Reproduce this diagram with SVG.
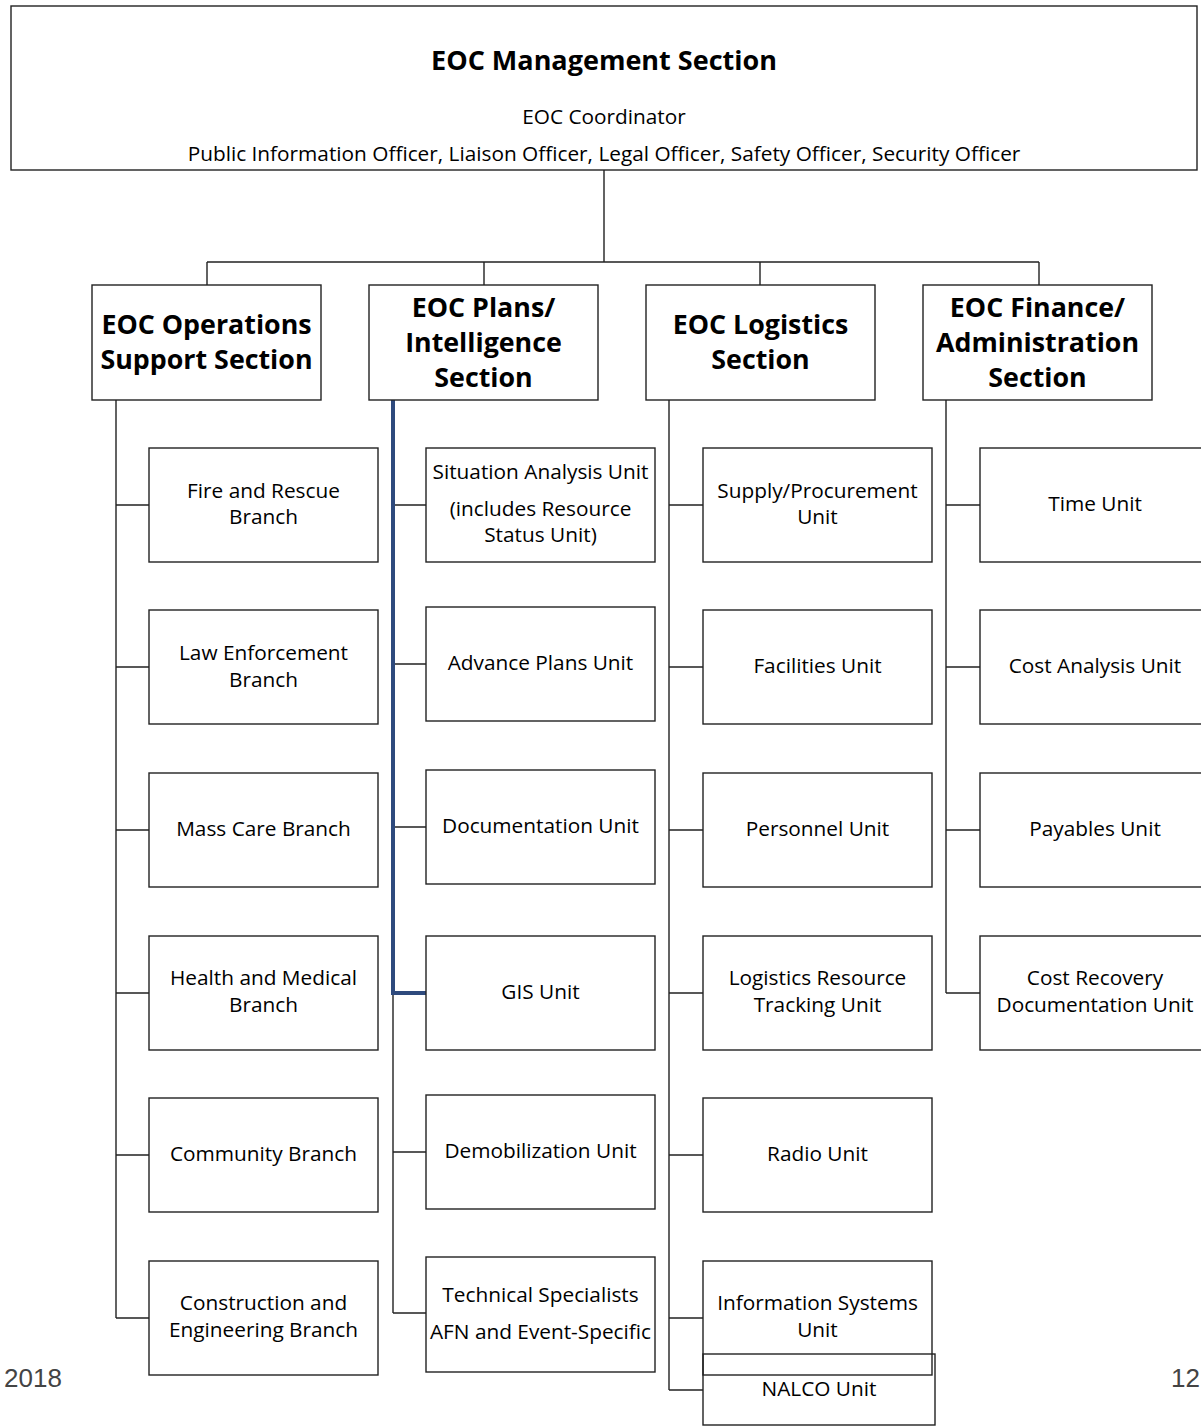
<svg xmlns="http://www.w3.org/2000/svg" width="1201" height="1426" viewBox="0 0 1201 1426">
<style>
text{font-family:"Open Sans","Liberation Sans",sans-serif;fill:#000;text-anchor:middle}
.box{fill:#fff;stroke:#222;stroke-width:1.4}
.nb{fill:none;stroke:#222;stroke-width:1.4}
.h{font-weight:bold;font-size:26.8px}
.t{font-size:20.8px}
.c{fill:none;stroke:#222;stroke-width:1.4}
.foot{font-family:"Liberation Sans",Arial,sans-serif;font-size:26px;fill:#444;text-anchor:start}
</style>
<rect width="1201" height="1426" fill="#fff"/>
<g id="connectors">
<path class="c" d="M604 170V262M207 262H1039M207 262V285M484 262V285M760 262V285M1039 262V285"/>
<path class="c" d="M116 400V1318M116 505H149M116 667H149M116 830H149M116 993H149M116 1155H149M116 1318H149"/>
<path class="c" d="M393 400V1313M393 505H426M393 664H426M393 827H426M393 1152H426M393 1313H426"/>
<path d="M393 400V993H426" fill="none" stroke="#2E4A7D" stroke-width="4"/>
<path class="c" d="M669 400V1390M669 505H703M669 667H703M669 830H703M669 993H703M669 1155H703M669 1318H703M669 1390H703"/>
<path class="c" d="M946 400V993M946 505H980M946 667H980M946 830H980M946 993H980"/>
</g>
<g id="mgmt"><rect class="box" x="11" y="6" width="1186" height="164"/>
<text x="604" y="70" style="font-weight:bold;font-size:27px">EOC Management Section</text>
<text class="t" x="604" y="124">EOC Coordinator</text>
<text class="t" x="604" y="161">Public Information Officer, Liaison Officer, Legal Officer, Safety Officer, Security Officer</text></g>
<g id="ops"><rect class="box" x="92" y="285" width="229" height="115"/><text class="h" x="206.5" y="334">EOC Operations</text><text class="h" x="206.5" y="369">Support Section</text></g>
<g id="plans"><rect class="box" x="369" y="285" width="229" height="115"/><text class="h" x="483.5" y="317">EOC Plans/</text><text class="h" x="483.5" y="352">Intelligence</text><text class="h" x="483.5" y="387">Section</text></g>
<g id="logistics"><rect class="box" x="646" y="285" width="229" height="115"/><text class="h" x="760.5" y="334">EOC Logistics</text><text class="h" x="760.5" y="369">Section</text></g>
<g id="finance"><rect class="box" x="923" y="285" width="229" height="115"/><text class="h" x="1037.5" y="317">EOC Finance/</text><text class="h" x="1037.5" y="352">Administration</text><text class="h" x="1037.5" y="387">Section</text></g>

<g id="fire"><rect class="box" x="149" y="448" width="229" height="114"/><text class="t" x="263.5" y="498">Fire and Rescue</text><text class="t" x="263.5" y="524">Branch</text></g>
<g id="law"><rect class="box" x="149" y="610" width="229" height="114"/><text class="t" x="263.5" y="660">Law Enforcement</text><text class="t" x="263.5" y="687">Branch</text></g>
<g id="mass"><rect class="box" x="149" y="773" width="229" height="114"/><text class="t" x="263.5" y="836">Mass Care Branch</text></g>
<g id="health"><rect class="box" x="149" y="936" width="229" height="114"/><text class="t" x="263.5" y="985">Health and Medical</text><text class="t" x="263.5" y="1012">Branch</text></g>
<g id="community"><rect class="box" x="149" y="1098" width="229" height="114"/><text class="t" x="263.5" y="1161">Community Branch</text></g>
<g id="construction"><rect class="box" x="149" y="1261" width="229" height="114"/><text class="t" x="263.5" y="1310">Construction and</text><text class="t" x="263.5" y="1337">Engineering Branch</text></g>

<g id="situation"><rect class="box" x="426" y="448" width="229" height="114"/><text class="t" x="540.5" y="479">Situation Analysis Unit</text><text class="t" x="540.5" y="516">(includes Resource</text><text class="t" x="540.5" y="542">Status Unit)</text></g>
<g id="advance"><rect class="box" x="426" y="607" width="229" height="114"/><text class="t" x="540.5" y="670">Advance Plans Unit</text></g>
<g id="documentation"><rect class="box" x="426" y="770" width="229" height="114"/><text class="t" x="540.5" y="833">Documentation Unit</text></g>
<g id="gis"><rect class="box" x="426" y="936" width="229" height="114"/><text class="t" x="540.5" y="999">GIS Unit</text></g>
<g id="demob"><rect class="box" x="426" y="1095" width="229" height="114"/><text class="t" x="540.5" y="1158">Demobilization Unit</text></g>
<g id="technical"><rect class="box" x="426" y="1257" width="229" height="115"/><text class="t" x="540.5" y="1302">Technical Specialists</text><text class="t" x="540.5" y="1339">AFN and Event-Specific</text></g>

<g id="supply"><rect class="box" x="703" y="448" width="229" height="114"/><text class="t" x="817.5" y="498">Supply/Procurement</text><text class="t" x="817.5" y="524">Unit</text></g>
<g id="facilities"><rect class="box" x="703" y="610" width="229" height="114"/><text class="t" x="817.5" y="673">Facilities Unit</text></g>
<g id="personnel"><rect class="box" x="703" y="773" width="229" height="114"/><text class="t" x="817.5" y="836">Personnel Unit</text></g>
<g id="lrt"><rect class="box" x="703" y="936" width="229" height="114"/><text class="t" x="817.5" y="985">Logistics Resource</text><text class="t" x="817.5" y="1012">Tracking Unit</text></g>
<g id="radio"><rect class="box" x="703" y="1098" width="229" height="114"/><text class="t" x="817.5" y="1161">Radio Unit</text></g>
<g id="infosys"><rect class="nb" x="703" y="1261" width="229" height="114"/><text class="t" x="817.5" y="1310">Information Systems</text><text class="t" x="817.5" y="1337">Unit</text></g>
<g id="nalco"><rect class="nb" x="703" y="1354" width="232" height="71"/><text class="t" x="819" y="1396">NALCO Unit</text></g>

<g id="time"><rect class="box" x="980" y="448" width="232" height="114"/><text class="t" x="1095" y="511">Time Unit</text></g>
<g id="costanalysis"><rect class="box" x="980" y="610" width="232" height="114"/><text class="t" x="1095" y="673">Cost Analysis Unit</text></g>
<g id="payables"><rect class="box" x="980" y="773" width="232" height="114"/><text class="t" x="1095" y="836">Payables Unit</text></g>
<g id="costrecovery"><rect class="box" x="980" y="936" width="232" height="114"/><text class="t" x="1095" y="985">Cost Recovery</text><text class="t" x="1095" y="1012">Documentation Unit</text></g>

<text class="foot" x="4" y="1387">2018</text>
<text class="foot" x="1171" y="1387">12</text>
</svg>
